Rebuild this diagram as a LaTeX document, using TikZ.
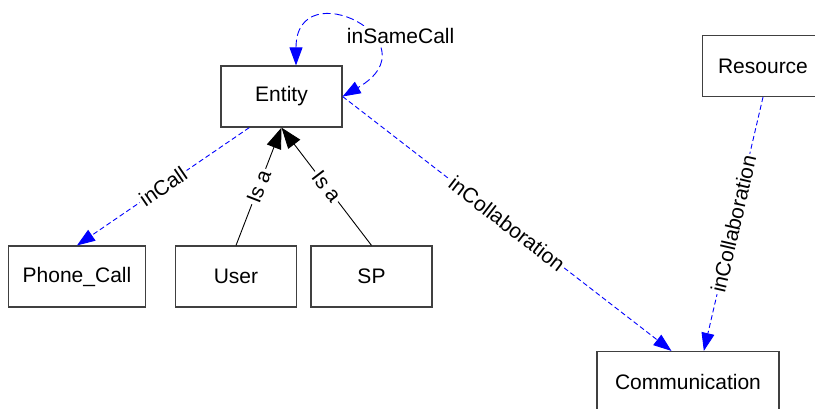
\documentclass[tikz,border=0pt]{standalone}
\usepackage{fontspec}
\setmainfont{Liberation Sans}
\usepackage{tikz}
\usetikzlibrary{arrows.meta}
\tikzstyle{entity} = [rectangle, draw=black!75, line width=0.6pt, text centered, minimum width=60.5pt, minimum height=30.5pt, inner xsep=7pt, font=\fontsize{10.5}{12}\selectfont]
\tikzstyle{relation} = [draw, blue, dash pattern=on 2.5pt off 1.5pt, line width=0.45pt, -{Triangle[length=9pt,width=6.5pt]}]
\tikzstyle{isa} = [draw, black, line width=0.45pt, -{Triangle[length=10.5pt,width=7.5pt]}]
\tikzstyle{rolename} = [midway, sloped, fill=white, inner sep=1pt, text=black, font=\fontsize{10.5}{12}\selectfont]

\begin{document}
\begin{tikzpicture}[x=0.5pt, y=-0.5pt]
        \useasboundingbox (0,0) rectangle (815,408);
        \node [entity] at (281.5,96.5) (entity) {Entity};
        \node [entity, minimum width=68pt] at (77,276.5) (phonecall) {Phone\_Call};
        \node [entity] at (236,276.5) (user) {User};
        \node [entity] at (371.5,276.5) (sp) {SP};
        \node [entity] at (763,66) (resource) {Resource};
        \node [entity, minimum width=91pt] at (688,382) (communication) {Communication};
        
        \path [relation, dash pattern=on 4pt off 2pt, {Triangle[length=9pt,width=6.5pt]}-{Triangle[length=9pt,width=6.5pt]}]
        (entity.65) .. controls +(0,-95) and +(95,-55) .. (entity.east)
        node [rolename, midway=false, sloped=false, pos=0.65, xshift=14.5pt, yshift=2.5pt] {inSameCall};
        
        \path [relation] (entity.224) -- (phonecall.north) node [rolename] {inCall};
        \path [isa] (user.north) -- (entity.south) node [rolename] {Is a};
        \path [isa] (sp.north) -- (entity.south) node [rolename] {Is a};
        \path [relation] (entity.east) -- (communication.118) node [rolename] {inCollaboration};
        \path [relation] (resource.south) -- (communication.63) node [rolename] {inCollaboration};
    \end{tikzpicture}
\end{document}
